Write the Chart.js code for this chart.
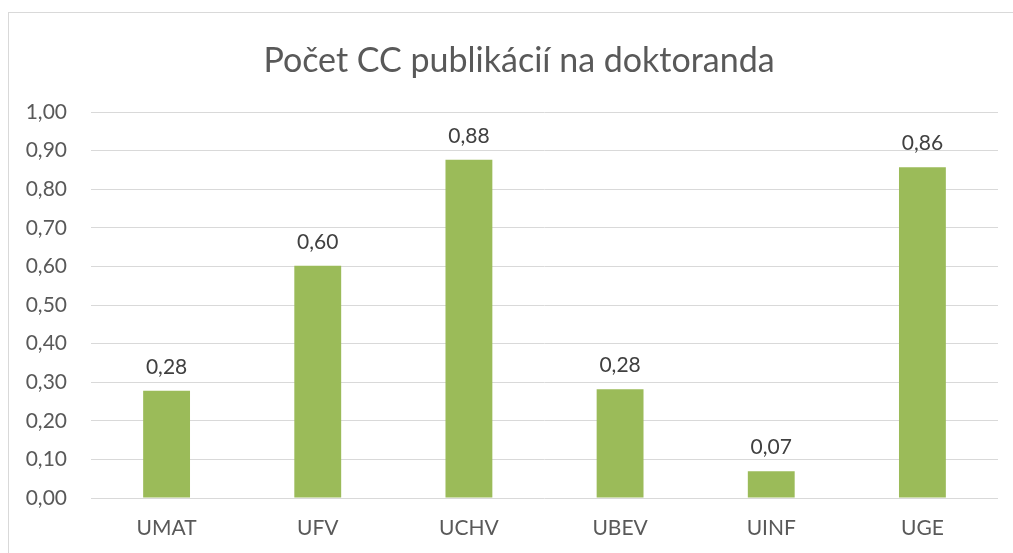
<!DOCTYPE html>
<html>
<head>
<meta charset="utf-8">
<script src="https://cdn.jsdelivr.net/npm/chart.js@4"></script>
<style>
  html, body { margin: 0; padding: 0; background: #fff; overflow: hidden; }
  #frame {
    position: absolute; left: 8px; top: 12px; width: 1005px; height: 541px;
    border-left: 1px solid #d9d9d9; border-top: 1px solid #d9d9d9;
  }
  #myChart { display: block; }
</style>
</head>
<body>
<div id="frame"><canvas id="myChart" width="1004" height="540"></canvas></div>
<script>
var categories = ['UMAT', 'UFV', 'UCHV', 'UBEV', 'UINF', 'UGE'];
var values = [0.278, 0.602, 0.876, 0.282, 0.069, 0.857];
var yTicks = [0, 0.1, 0.2, 0.3, 0.4, 0.5, 0.6, 0.7, 0.8, 0.9, 1.0];
var chartTitle = 'Počet CC publikácií na doktoranda';

var fontName = 'Lato';

function fmt(v) {
    return v.toFixed(2).replace('.', ',');
}

// title + labels above each bar
var extras = {
    id: 'extras',
    afterDatasetsDraw: function (chart) {
        var ctx = chart.ctx;
        var meta = chart.getDatasetMeta(0);
        ctx.save();
        ctx.textAlign = 'center';
        ctx.textBaseline = 'alphabetic';

        ctx.font = '34px ' + fontName;
        ctx.fillStyle = '#595959';
        ctx.fillText(chartTitle, 510, 59);

        ctx.font = '21px ' + fontName;
        ctx.fillStyle = '#404040';
        meta.data.forEach(function (bar, i) {
            ctx.fillText(fmt(values[i]), bar.x, bar.y - 17);
        });
        ctx.restore();
    }
};

var ctx = document.getElementById('myChart');
var myChart = new Chart(ctx, {
    type: 'bar',
    data: {
        labels: categories,
        datasets: [{
            label: chartTitle,
            data: values,
            backgroundColor: '#9bbb59',
            barPercentage: 0.31,
            categoryPercentage: 1
        }]
    },
    options: {
        responsive: false,
        animation: false,
        layout: { padding: { left: 0, right: 15, top: 99, bottom: 0 } },
        plugins: {
            legend: { display: false },
            tooltip: { enabled: false },
            title: { display: false }
        },
        scales: {
            x: {
                afterFit: function (scale) { scale.height = 55; },
                grid: { display: false },
                border: { display: false },
                ticks: {
                    color: '#595959',
                    font: { family: fontName, size: 21 },
                    padding: 10
                }
            },
            y: {
                min: 0,
                max: 1,
                afterFit: function (scale) { scale.width = 82; },
                afterBuildTicks: function (scale) {
                    scale.ticks = yTicks.map(function (v) { return { value: v }; });
                },
                grid: { color: '#d9d9d9', lineWidth: 1, drawTicks: false },
                border: { display: false },
                ticks: {
                    color: '#595959',
                    font: { family: fontName, size: 21 },
                    padding: 24,
                    callback: function (v) { return fmt(v); }
                }
            }
        }
    },
    plugins: [extras]
});
</script>
</body>
</html>
